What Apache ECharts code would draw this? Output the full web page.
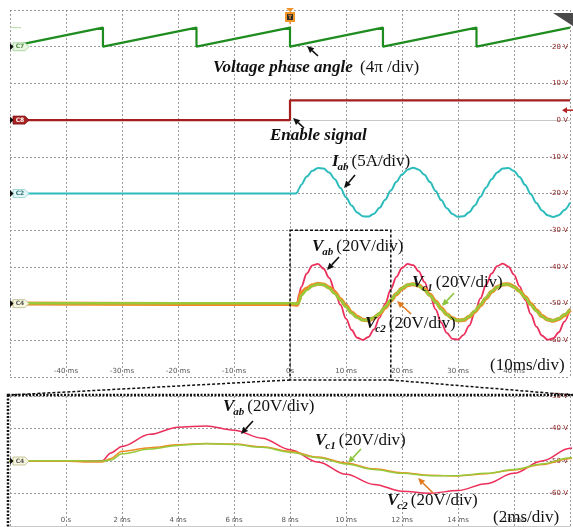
<!DOCTYPE html>
<html><head><meta charset="utf-8">
<script src="https://cdn.jsdelivr.net/npm/echarts@6/dist/echarts.min.js"></script>
<style>html,body{margin:0;padding:0;background:#fff}#c{width:573px;height:527px}</style>
</head><body><div id="c"></div>
<script>
// ---- data (time in ms, value in scope volts) ----
const sawTime = [-50, -33.4, -33.4, -16.7, -16.7, 0, 0, 16.6, 16.6, 33.3, 33.3, 50];
const sawVal  = [20.0, 25.2, 20.0, 25.2, 20.0, 25.2, 20.0, 25.2, 20.0, 25.2, 20.0, 25.2];
const enTime  = [-50, 0, 0, 50];
const enVal   = [0, 0, 5.4, 5.4];
const tSig = [-50, 0, 1, 1.3, 1.6, 2, 3,
  4, 5, 6, 7, 8, 9, 10, 11, 12, 13,
  14, 15, 16, 17, 18, 19, 20, 21, 22, 23,
  24, 25, 26, 27, 28, 29, 30, 31, 32, 33,
  34, 35, 36, 37, 38, 39, 40, 41, 42, 43,
  44, 45, 46, 47, 48, 49, 50];
const vab = [-50.0, -50.0, -50.0, -49.9, -47.5, -45.5, -41.8,
  -39.6, -39.2, -40.5, -43.0, -46.5, -50.3, -54.1, -57.2, -59.3, -59.9,
  -59.1, -57.0, -53.8, -50.0, -46.1, -42.7, -40.3, -39.2, -39.5, -41.2,
  -44.1, -47.7, -51.6, -55.2, -58.0, -59.6, -59.8, -58.5, -56.0, -52.5,
  -48.6, -44.9, -41.8, -39.8, -39.1, -39.9, -42.1, -45.3, -49.0, -52.9,
  -56.3, -58.7, -59.8, -59.5, -57.8, -54.9, -51.3];
const vc1 = [-49.9, -49.9, -50.0, -50.0, -49.7, -47.8, -46.3,
  -45.2, -44.7, -44.9, -45.8, -47.3, -49.0, -50.9, -52.6, -53.8, -54.5,
  -54.5, -53.8, -52.6, -50.9, -49.0, -47.3, -45.8, -44.9, -44.7, -45.2,
  -46.3, -47.8, -49.6, -51.5, -53.0, -54.1, -54.6, -54.4, -53.5, -52.0,
  -50.3, -48.4, -46.7, -45.5, -44.8, -44.8, -45.5, -46.7, -48.4, -50.3,
  -52.0, -53.5, -54.4, -54.6, -54.1, -53.0, -51.5];
const vc2 = [-50.0, -50.1, -50.3, -50.3, -49.2, -47.0, -45.9,
  -45.0, -44.6, -44.8, -45.6, -47.0, -48.8, -50.6, -52.4, -53.6, -54.4,
  -54.6, -53.9, -52.8, -51.1, -49.2, -47.4, -45.9, -45.0, -44.7, -45.1,
  -46.1, -47.6, -49.4, -51.3, -52.9, -54.0, -54.6, -54.5, -53.6, -52.2,
  -50.5, -48.6, -46.8, -45.5, -44.8, -44.7, -45.4, -46.6, -48.2, -50.1,
  -51.8, -53.4, -54.3, -54.7, -54.2, -53.2, -51.7];
const iab = [-20.0, -20.0, -20.0, -19.7, -18.7, -17.6, -15.4,
  -13.8, -13.05, -13.2, -14.3, -16.1, -18.5, -21.0, -23.3, -25.2, -26.2,
  -26.3, -25.5, -23.9, -21.7, -19.2, -16.8, -14.8, -13.5, -13.0, -13.5,
  -14.9, -16.9, -19.3, -21.8, -24.0, -25.6, -26.35, -26.2, -25.1, -23.25,
  -20.9, -18.4, -16.1, -14.25, -13.2, -13.06, -13.85, -15.5, -17.7, -20.2,
  -22.6, -24.6, -25.95, -26.4, -25.9, -24.5, -22.5];
const topXTicks = [-40, -30, -20, -10, 0, 10, 20, 30, 40];
const topYTicks = [20, 10, 0, -10, -20, -30, -40, -50, -60];
const zoomXTicks = [0, 2, 4, 6, 8, 10, 12, 14, 16];
const zoomYTicks = [-30, -40, -50, -60];

// ---- chart ----
const chart = echarts.init(document.getElementById('c'));
const pts = (ts, vs) => ts.map((t, i) => [t, vs[i]]);
const C = {saw:'#1f8c1f', en:'#a41e1e', iab:'#2cbcbc', vab:'#ec2f5a', vc1:'#97c93a', vc2:'#f08a26'};
const grid = {color:'#9a9a9a', type:[2, 2]};
function xAx(gi, min, max, iv, ticks, fmt){
  return {gridIndex:gi, type:'value', min, max, interval:iv,
    axisLine:{show:true, lineStyle:{color:'#c8c8c8'}}, axisTick:{show:false},
    splitLine:{show:true, lineStyle:grid},
    axisLabel:{inside:true, margin:2, fontSize:7, color:'#555', fontFamily:'DejaVu Sans',
      formatter:v => ticks.includes(v) ? fmt(v) : ''}};
}
function yAx(gi, min, max, ticks){
  return {gridIndex:gi, type:'value', position:'right', min, max, interval:10,
    axisLine:{show:false}, axisTick:{show:false}, splitLine:{show:true, lineStyle:grid},
    axisLabel:{inside:true, margin:2, fontSize:7, color:'#8b2020', fontFamily:'DejaVu Sans',
      formatter:v => ticks.includes(v) ? (v + ' V') : ''}};
}
function line(gi, data, color, width, smooth){
  return {type:'line', xAxisIndex:gi, yAxisIndex:gi, data, showSymbol:false, symbol:'none',
    smooth: smooth ? 0.35 : false, smoothMonotone:'x', animation:false,
    lineStyle:{color, width}, emphasis:{disabled:true}};
}
chart.setOption({
  animation:false,
  grid:[{left:10, top:10, width:565, height:367}, {left:10, top:396, width:565, height:130}],
  xAxis:[xAx(0, -50, 50, 10, topXTicks, v => v === 0 ? '0s' : v + ' ms'),
         xAx(1, -2, 18, 2, zoomXTicks, v => v === 0 ? '0 s' : v + ' ms')],
  yAxis:[yAx(0, -70, 30, topYTicks), yAx(1, -70, -30, zoomYTicks)],
  series:[
    line(0, pts(sawTime, sawVal), C.saw, 2.2, false),
    line(0, pts(enTime, enVal), C.en, 2.2, false),
    line(0, pts(tSig, iab), C.iab, 2, true),
    line(0, pts(tSig, vab), C.vab, 1.8, true),
    line(0, pts(tSig, vc2), C.vc2, 4, true),
    line(0, pts(tSig, vc1), C.vc1, 2.6, true),
    line(1, pts(tSig, vab), C.vab, 1.5, true),
    line(1, pts(tSig, vc2), C.vc2, 1.5, true),
    line(1, pts(tSig, vc1), C.vc1, 1.5, true)
  ]
});

// ---- decorations ----
const cv = document.createElement('canvas').getContext('2d');
function tw(s, font){cv.font = font; return cv.measureText(s).width;}
const BI = 'italic bold 17px "Liberation Serif"';
const BIs = 'italic bold 11px "Liberation Serif"';
const RG = '17px "Liberation Serif"';
function txt(x, y, s, font, fill){
  return {type:'text', x, y, z:100, style:{text:s, font, fill:fill || '#111', verticalAlign:'middle'}};
}
function sublab(x, y, main, sub, rest){
  const w1 = tw(main, BI), w2 = tw(sub, BIs);
  return [txt(x, y, main, BI), txt(x + w1 - 1, y + 5, sub, BIs), txt(x + w1 + w2 + 2, y, rest, RG)];
}
function arrow(x1, y1, x2, y2, color){
  const a = Math.atan2(y2 - y1, x2 - x1), L = 7, W = 3.2;
  const bx = x2 - L * Math.cos(a), by = y2 - L * Math.sin(a);
  const px = -Math.sin(a) * W, py = Math.cos(a) * W;
  return [{type:'line', z:100, shape:{x1, y1, x2:bx, y2:by}, style:{stroke:color, lineWidth:1.6}},
          {type:'polygon', z:100, shape:{points:[[x2, y2], [bx + px, by + py], [bx - px, by - py]]}, style:{fill:color}}];
}
function tag(y, label, fill, stroke, tcolor){
  const x = 10;
  return [
    {type:'polygon', z:90, shape:{points:[[x + 3, y - 4], [x + 15, y - 4], [x + 19, y], [x + 15, y + 4], [x + 3, y + 4]]},
      style:{fill, stroke, lineWidth:0.8}},
    {type:'polygon', z:91, shape:{points:[[x, y - 3.5], [x + 3.5, y], [x, y + 3.5]]}, style:{fill:'#111'}},
    {type:'text', z:92, x:x + 10, y, style:{text:label, font:'bold 6px "DejaVu Sans"', fill:tcolor, align:'center', verticalAlign:'middle'}}
  ];
}
const p0 = (x, y) => chart.convertToPixel({gridIndex:0}, [x, y]);
const p1 = (x, y) => chart.convertToPixel({gridIndex:1}, [x, y]);

const g = [];
g.push(...tag(p0(-50, 20)[1], 'C7', '#e9f6e4', '#9bcf8f', '#4a8a3a'));
g.push(...tag(p0(-50, 0)[1], 'C8', '#a82222', '#7a1010', '#ffffff'));
g.push(...tag(p0(-50, -20)[1], 'C2', '#e2f6f6', '#8fd0d0', '#2b6f6f'));
g.push(...tag(p0(-50, -50)[1], 'C4', '#f7f7df', '#b9b98a', '#555'));
g.push(...tag(p1(-2, -50)[1], 'C4', '#f7f7df', '#b9b98a', '#555'));
// small level marker near C7
g.push({type:'line', z:90, shape:{x1:10, y1:p0(-50, 25.2)[1], x2:21, y2:p0(-50, 25.2)[1]}, style:{stroke:'#b9dca4', lineWidth:1}});
// trigger marker
const tx = p0(0, 0)[0];
g.push({type:'polygon', z:95, shape:{points:[[tx - 4, 8], [tx + 4, 8], [tx, 12]]}, style:{fill:'#f0962a'}});
g.push({type:'rect', z:95, shape:{x:tx - 5, y:12, width:10, height:10}, style:{fill:'#f0962a'}});
g.push({type:'rect', z:96, shape:{x:tx - 3, y:14, width:6, height:6}, style:{fill:'#2a2a2a'}});
g.push({type:'text', z:97, x:tx, y:17, style:{text:'T', font:'bold 6px "DejaVu Sans"', fill:'#f0962a', align:'center', verticalAlign:'middle'}});
g.push({type:'polygon', z:95, shape:{points:[[tx - 1, 22], [tx + 1, 22], [tx, 25]]}, style:{fill:'#f0962a'}});
// top-right icon
g.push({type:'polygon', z:95, shape:{points:[[553, 13], [573, 13], [573, 26]]}, style:{fill:'#4a4a4a'}});
// right red level arrow
const ry = p0(50, 2.7)[1];
g.push({type:'polygon', z:95, shape:{points:[[562, ry], [567, ry - 3], [567, ry + 3]]}, style:{fill:'#b22222'}});
g.push({type:'line', z:95, shape:{x1:566, y1:ry, x2:573, y2:ry}, style:{stroke:'#b22222', lineWidth:1.5}});
// dashed zoom box + connectors
const bl = p0(0, -30), br = p0(18, -30);
const bb = p0(0, -70)[1] + 3;
g.push({type:'rect', z:80, shape:{x:bl[0], y:bl[1], width:br[0] - bl[0], height:bb - bl[1]},
  style:{fill:'none', stroke:'#111', lineWidth:1.5, lineDash:[3, 2]}});
const zl = p1(-2, -30);
g.push({type:'line', z:80, shape:{x1:bl[0], y1:bb, x2:zl[0], y2:zl[1] - 1}, style:{stroke:'#111', lineWidth:1.5, lineDash:[3, 2]}});
g.push({type:'line', z:80, shape:{x1:br[0], y1:bb, x2:573, y2:zl[1] - 1}, style:{stroke:'#111', lineWidth:1.5, lineDash:[3, 2]}});
g.push({type:'rect', z:80, shape:{x:8, y:zl[1] - 1, width:567, height:134},
  style:{fill:'none', stroke:'#111', lineWidth:2.5, lineDash:[2, 1.5]}});
// annotations
g.push(txt(213, 68, 'Voltage phase angle', BI));
g.push(txt(360, 68, '(4\u03c0 /div)', RG));
g.push(txt(270, 136, 'Enable signal', BI));
g.push(...sublab(332, 162, 'I', 'ab', '(5A/div)'));
g.push(...sublab(312, 247, 'V', 'ab', '(20V/div)'));
g.push(...sublab(412, 283, 'V', 'c1', '(20V/div)'));
g.push(...sublab(365, 324, 'V', 'c2', '(20V/div)'));
g.push(txt(490, 366, '(10ms/div)', RG));
g.push(...sublab(223, 407, 'V', 'ab', '(20V/div)'));
g.push(...sublab(315, 441, 'V', 'c1', '(20V/div)'));
g.push(...sublab(387, 501, 'V', 'c2', '(20V/div)'));
g.push(txt(493, 518, '(2ms/div)', RG));
// arrows
g.push(...arrow(318, 56, 307, 46, '#111'));
g.push(...arrow(304, 128, 293, 118, '#111'));
g.push(...arrow(355, 175, 344, 188, '#111'));
g.push(...arrow(339, 257, 327, 270, '#111'));
g.push(...arrow(454, 293, 442, 306, '#8cc63f'));
g.push(...arrow(411, 314, 397, 301, '#e07b20'));
g.push(...arrow(253, 421, 241, 434, '#111'));
g.push(...arrow(361, 449, 348, 463, '#8cc63f'));
g.push(...arrow(433, 493, 418, 478, '#e07b20'));
chart.setOption({graphic:{elements:g}});
</script></body></html>
